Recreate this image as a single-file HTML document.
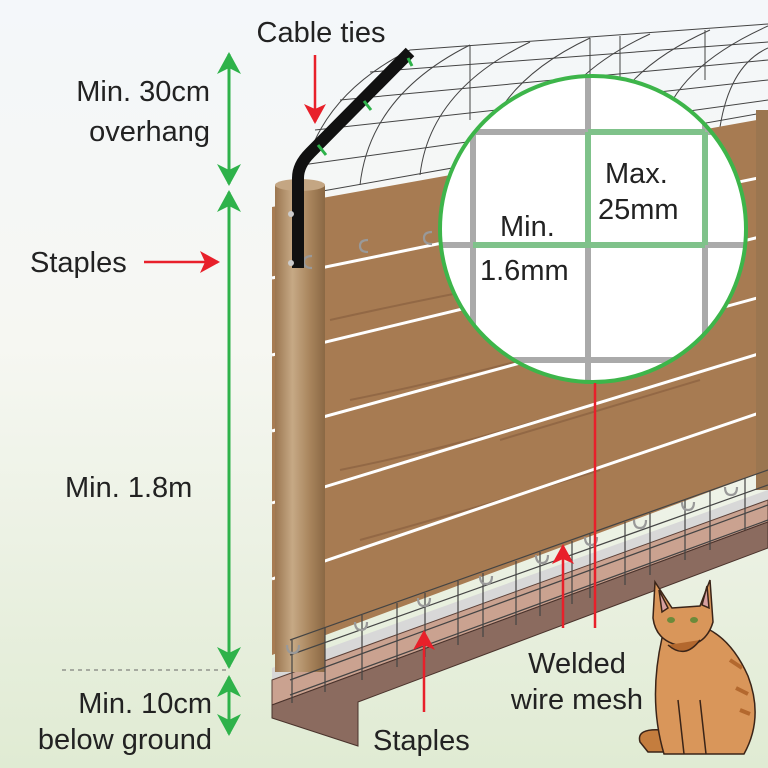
<!DOCTYPE html>
<html><head><meta charset="utf-8"><style>
html,body{margin:0;padding:0;width:768px;height:768px;overflow:hidden}
text{font-family:"Liberation Sans",sans-serif;fill:#222}
</style></head><body>
<svg width="768" height="768" viewBox="0 0 768 768" xmlns="http://www.w3.org/2000/svg">
<defs>
<linearGradient id="bg" x1="0" y1="0" x2="0" y2="1">
<stop offset="0" stop-color="#f4f7fa"/><stop offset="0.45" stop-color="#f6f7f2"/><stop offset="1" stop-color="#e0ebd3"/></linearGradient>
<linearGradient id="post" x1="0" y1="0" x2="1" y2="0">
<stop offset="0" stop-color="#9b7650"/><stop offset="0.35" stop-color="#c6a985"/><stop offset="0.7" stop-color="#a8845c"/><stop offset="1" stop-color="#8a6844"/></linearGradient>
<marker id="ga" markerWidth="22" markerHeight="24" refX="20" refY="12" orient="auto-start-reverse" markerUnits="userSpaceOnUse" viewBox="0 0 22 24"><path d="M0,0 L22,12 L0,24 L6,12z" fill="#2eb24a"/></marker>
<marker id="ra" markerWidth="20" markerHeight="22" refX="18" refY="11" orient="auto" markerUnits="userSpaceOnUse" viewBox="0 0 20 22"><path d="M0,0 L20,11 L0,22 L5,11z" fill="#e8202a"/></marker>
<clipPath id="cc"><circle cx="593" cy="229" r="153"/></clipPath>
</defs>
<rect width="768" height="768" fill="url(#bg)"/>

<!-- overhang mesh -->
<g fill="none" stroke="#444" stroke-width="1">
<path d="M300 195 Q310 100 410 50"/><path d="M360 185 Q370 95 470 45"/><path d="M420 175 Q430 90 530 42"/><path d="M480 165 Q490 85 590 38"/><path d="M540 155 Q550 80 650 34"/><path d="M600 145 Q610 75 710 30"/><path d="M660 135 Q670 70 768 26"/><path d="M720 127 Q730 65 768 48"/>
<path d="M302 165 L768 100"/><path d="M315 130 L768 80"/><path d="M340 100 L768 60"/><path d="M370 72 L768 42"/><path d="M410 50 L768 24"/>
<path d="M300 195 L768 112"/>
<path d="M470 45 L470 120 M590 38 L590 100 M705 30 L705 80 M620 36 L620 95"/>
</g>

<!-- boards -->
<polygon points="272,207 768,118 768,470 272,655" fill="#a77b52"/>
<g stroke="#8a6140" stroke-width="2" fill="none" opacity="0.7">
<path d="M330 320 Q420 300 500 285"/><path d="M350 400 Q450 380 560 350"/><path d="M340 470 Q440 450 540 420"/><path d="M360 540 Q470 510 600 470"/><path d="M500 440 Q600 410 700 380"/>
</g>
<g stroke="#fff" stroke-width="3">
<line x1="272" y1="278" x2="768" y2="176"/><line x1="272" y1="355" x2="768" y2="235"/><line x1="272" y1="431" x2="768" y2="295"/><line x1="272" y1="503" x2="768" y2="351"/><line x1="272" y1="579" x2="768" y2="410"/>
</g>
<rect x="756" y="110" width="12" height="380" fill="#9b7650"/>

<!-- footing -->
<polygon points="272,668 768,490 768,508 272,685" fill="#d8d8d8"/>
<polygon points="272,680 768,500 768,522 272,705" fill="#caa290" stroke="#5a3f36" stroke-width="1"/>
<polygon points="272,705 768,522 768,548 358,702 358,746 272,718" fill="#8b6b5f" stroke="#4a332c" stroke-width="1"/>

<!-- post -->
<rect x="275" y="185" width="50" height="487" fill="url(#post)"/>
<ellipse cx="300" cy="185" rx="25" ry="6" fill="#c4a683"/>

<!-- bottom mesh -->
<g stroke="#444" stroke-width="1.2" fill="none">
<line x1="290" y1="640" x2="768" y2="470"/><line x1="290" y1="655" x2="768" y2="485"/><line x1="290" y1="680" x2="768" y2="505"/><line x1="290" y1="695" x2="768" y2="520"/>
<path d="M292 640 V703 M325 628 V692 M362 615 V680 M397 603 V667 M425 593 V657 M458 581 V645 M483 573 V637 M516 561 V625 M540 552 V616 M572 541 V604 M590 534 V598 M625 522 V585 M650 513 V575 M685 500 V560 M710 491 V550 M745 478 V530"/>
</g>
<g stroke="#999" stroke-width="2.2" fill="none">
<path d="M287 645 q0 8 6 8 q6 0 6 -8"/><path d="M355 622 q0 8 6 8 q6 0 6 -8"/><path d="M418 598 q0 8 6 8 q6 0 6 -8"/><path d="M480 576 q0 8 6 8 q6 0 6 -8"/><path d="M536 555 q0 8 6 8 q6 0 6 -8"/><path d="M585 537 q0 8 6 8 q6 0 6 -8"/><path d="M634 520 q0 8 6 8 q6 0 6 -8"/><path d="M682 502 q0 8 6 8 q6 0 6 -8"/><path d="M725 487 q0 8 6 8 q6 0 6 -8"/>
<path d="M312 256 q-8 0 -8 6 q0 6 8 6"/><path d="M368 240 q-8 0 -8 6 q0 6 8 6"/><path d="M432 232 q-8 0 -8 6 q0 6 8 6"/>
</g>

<!-- bracket -->
<path d="M298 268 L298 178 Q298 165 310 153 L410 52" fill="none" stroke="#111" stroke-width="12" stroke-linejoin="round"/>
<circle cx="291" cy="214" r="3" fill="#ccc"/><circle cx="291" cy="263" r="3" fill="#ccc"/>
<g stroke="#2eb24a" stroke-width="3"><line x1="318" y1="145" x2="326" y2="155"/><line x1="364" y1="101" x2="371" y2="110"/><line x1="408" y1="58" x2="412" y2="66"/></g>

<!-- zoom circle -->
<circle cx="593" cy="229" r="153" fill="#fff"/>
<g clip-path="url(#cc)">
<g stroke="#aaa" stroke-width="6"><line x1="473" y1="60" x2="473" y2="400"/><line x1="588" y1="60" x2="588" y2="400"/><line x1="705" y1="60" x2="705" y2="400"/>
<line x1="430" y1="132" x2="760" y2="132"/><line x1="430" y1="245" x2="760" y2="245"/><line x1="430" y1="360" x2="760" y2="360"/></g>
<g stroke="#7fc28a" stroke-width="6"><line x1="588" y1="132" x2="705" y2="132"/><line x1="473" y1="245" x2="705" y2="245"/><line x1="588" y1="132" x2="588" y2="245"/><line x1="705" y1="132" x2="705" y2="245"/></g>
</g>
<circle cx="593" cy="229" r="153" fill="none" stroke="#3db54a" stroke-width="4"/>
<g font-size="29">
<text x="605" y="183">Max.</text>
<text x="598" y="219">25mm</text>
<text x="500" y="236">Min.</text>
<text x="480" y="280">1.6mm</text>
</g>

<!-- cat -->
<g stroke="#3a2418" stroke-width="1.5">
<path d="M640 742 Q636 728 662 730 L690 736 L690 752 L648 752 Z" fill="#c47d3e"/>
<path d="M662 638 Q648 700 664 754 L744 754 Q764 718 748 676 Q732 640 706 628 Z" fill="#d9965a"/>
<path d="M655 582 L672 608 L700 606 L710 580 L713 622 Q706 646 682 646 Q656 642 653 618 Z" fill="#d9965a"/>
<path d="M659 590 L668 608 L662 612 Z M707 586 L702 605 L709 608 Z" fill="#d7a0a0"/>
<path d="M668 645 Q685 660 700 640" fill="#b3682e"/>
<path d="M678 700 L684 754 M700 700 L706 754" fill="none"/>
</g>
<ellipse cx="671" cy="620" rx="4" ry="3" fill="#6b8a3a"/><ellipse cx="694" cy="620" rx="4" ry="3" fill="#6b8a3a"/>
<path d="M730 660 l12 8 M736 688 l12 6 M740 710 l10 4" stroke="#b3682e" stroke-width="4"/>

<!-- dimension arrows -->
<g stroke="#2eb24a" stroke-width="3" fill="none">
<line x1="229" y1="54" x2="229" y2="184" marker-start="url(#ga)" marker-end="url(#ga)"/>
<line x1="229" y1="192" x2="229" y2="667" marker-start="url(#ga)" marker-end="url(#ga)"/>
<line x1="229" y1="677" x2="229" y2="734" marker-start="url(#ga)" marker-end="url(#ga)"/>
</g>
<line x1="62" y1="670" x2="228" y2="670" stroke="#666" stroke-width="1" stroke-dasharray="4,4"/>

<!-- red arrows -->
<g stroke="#e8202a" stroke-width="2.5" fill="none">
<line x1="315" y1="55" x2="315" y2="122" marker-end="url(#ra)"/>
<line x1="144" y1="262" x2="218" y2="262" marker-end="url(#ra)"/>
<line x1="424" y1="712" x2="424" y2="632" marker-end="url(#ra)"/>
<line x1="563" y1="628" x2="563" y2="546" marker-end="url(#ra)"/>
<line x1="595" y1="628" x2="595" y2="383"/>
</g>

<!-- labels -->
<g font-size="29">
<text x="321" y="42" text-anchor="middle">Cable ties</text>
<text x="210" y="101" text-anchor="end">Min. 30cm</text>
<text x="210" y="141" text-anchor="end">overhang</text>
<text x="30" y="272">Staples</text>
<text x="65" y="497">Min. 1.8m</text>
<text x="212" y="713" text-anchor="end">Min. 10cm</text>
<text x="212" y="749" text-anchor="end">below ground</text>
<text x="373" y="750">Staples</text>
<text x="577" y="673" text-anchor="middle">Welded</text>
<text x="577" y="709" text-anchor="middle">wire mesh</text>
</g>
</svg>
</body></html>
